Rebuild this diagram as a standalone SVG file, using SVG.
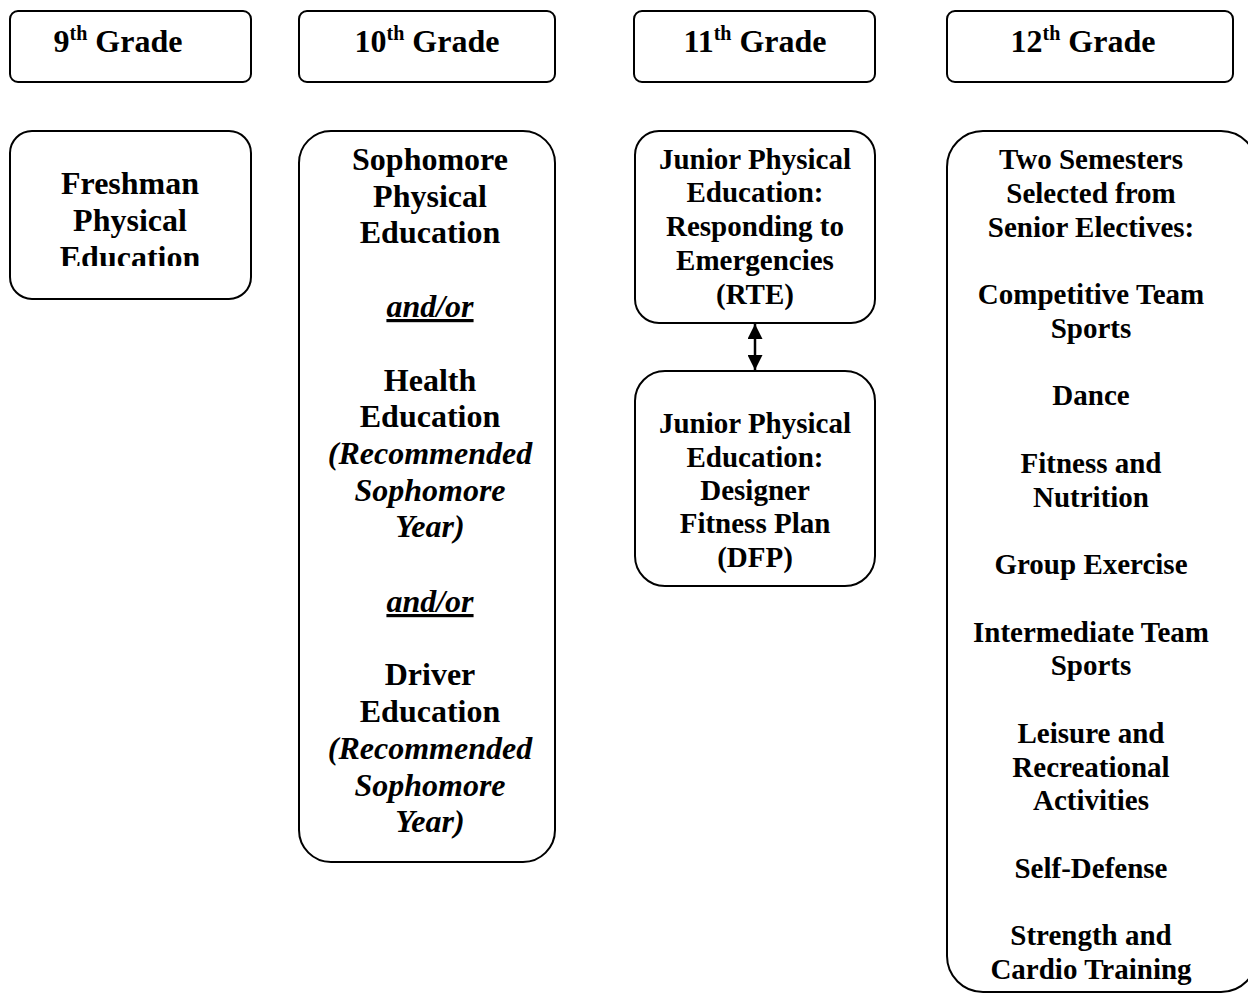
<svg xmlns="http://www.w3.org/2000/svg" width="1248" height="994" viewBox="0 0 1248 994">
<style>
.box{fill:#fff;stroke:#000;stroke-width:2}
.t{font-family:"Liberation Serif","Times New Roman",serif;font-weight:bold;fill:#000;text-anchor:middle}
.h{font-size:32px}
.sup{font-size:20px}
.l{font-size:32px}
.s{font-size:29px}
.i{font-style:italic}
.u{text-decoration:underline}
.conn{stroke:#000;stroke-width:2.5;fill:none}
</style>
<defs>
<marker id="ah" viewBox="0 0 15 15" refX="15" refY="7.5" markerWidth="15" markerHeight="15" markerUnits="userSpaceOnUse" orient="auto-start-reverse">
<path d="M0,0 L15,7.5 L0,15 Z" fill="#000"/>
</marker>
<clipPath id="fclip"><rect x="10" y="131" width="241" height="135"/></clipPath>
</defs>

<g id="h9">
<rect class="box" x="10" y="11" width="241" height="71" rx="8"/>
<text class="t h" x="118" y="52">9<tspan class="sup" dy="-12">th</tspan><tspan dy="12"> Grade</tspan></text>
</g>
<g id="h10">
<rect class="box" x="299" y="11" width="256" height="71" rx="8"/>
<text class="t h" x="427" y="52">10<tspan class="sup" dy="-12">th</tspan><tspan dy="12"> Grade</tspan></text>
</g>
<g id="h11">
<rect class="box" x="634" y="11" width="241" height="71" rx="8"/>
<text class="t h" x="755" y="52">11<tspan class="sup" dy="-12">th</tspan><tspan dy="12"> Grade</tspan></text>
</g>
<g id="h12">
<rect class="box" x="947" y="11" width="286" height="71" rx="8"/>
<text class="t h" x="1083" y="52">12<tspan class="sup" dy="-12">th</tspan><tspan dy="12"> Grade</tspan></text>
</g>

<g id="freshman">
<rect class="box" x="10" y="131" width="241" height="168" rx="22"/>
<g clip-path="url(#fclip)">
<text class="t l" x="130" y="194">Freshman</text>
<text class="t l" x="130" y="231">Physical</text>
<text class="t l" x="130" y="268">Education</text>
</g>
</g>

<g id="sophomore">
<rect class="box" x="299" y="131" width="256" height="731" rx="32"/>
<text class="t l" x="430" y="170">Sophomore</text>
<text class="t l" x="430" y="207">Physical</text>
<text class="t l" x="430" y="243">Education</text>
<text class="t l i u" x="430" y="317">and/or</text>
<text class="t l" x="430" y="391">Health</text>
<text class="t l" x="430" y="427">Education</text>
<text class="t l i" x="430" y="464">(Recommended</text>
<text class="t l i" x="430" y="501">Sophomore</text>
<text class="t l i" x="430" y="537">Year)</text>
<text class="t l i u" x="430" y="612">and/or</text>
<text class="t l" x="430" y="685">Driver</text>
<text class="t l" x="430" y="722">Education</text>
<text class="t l i" x="430" y="759">(Recommended</text>
<text class="t l i" x="430" y="796">Sophomore</text>
<text class="t l i" x="430" y="832">Year)</text>
</g>

<g id="rte">
<rect class="box" x="635" y="131" width="240" height="192" rx="24"/>
<text class="t s" x="755" y="169">Junior Physical</text>
<text class="t s" x="755" y="202">Education:</text>
<text class="t s" x="755" y="236">Responding to</text>
<text class="t s" x="755" y="270">Emergencies</text>
<text class="t s" x="755" y="304">(RTE)</text>
</g>

<g id="dfp">
<rect class="box" x="635" y="371" width="240" height="215" rx="30"/>
<text class="t s" x="755" y="433">Junior Physical</text>
<text class="t s" x="755" y="467">Education:</text>
<text class="t s" x="755" y="500">Designer</text>
<text class="t s" x="755" y="533">Fitness Plan</text>
<text class="t s" x="755" y="567">(DFP)</text>
</g>

<g id="senior">
<rect class="box" x="947" y="131" width="310" height="861" rx="36"/>
<text class="t s" x="1091" y="169">Two Semesters</text>
<text class="t s" x="1091" y="202.75">Selected from</text>
<text class="t s" x="1091" y="236.5">Senior Electives:</text>
<text class="t s" x="1091" y="304">Competitive Team</text>
<text class="t s" x="1091" y="337.75">Sports</text>
<text class="t s" x="1091" y="405.25">Dance</text>
<text class="t s" x="1091" y="472.75">Fitness and</text>
<text class="t s" x="1091" y="506.5">Nutrition</text>
<text class="t s" x="1091" y="574">Group Exercise</text>
<text class="t s" x="1091" y="641.5">Intermediate Team</text>
<text class="t s" x="1091" y="675.25">Sports</text>
<text class="t s" x="1091" y="742.75">Leisure and</text>
<text class="t s" x="1091" y="776.5">Recreational</text>
<text class="t s" x="1091" y="810.25">Activities</text>
<text class="t s" x="1091" y="877.75">Self-Defense</text>
<text class="t s" x="1091" y="945.25">Strength and</text>
<text class="t s" x="1091" y="979">Cardio Training</text>
</g>

<g id="connectors">
<line class="conn" x1="755" y1="324" x2="755" y2="370" marker-start="url(#ah)" marker-end="url(#ah)"/>
</g>
</svg>
